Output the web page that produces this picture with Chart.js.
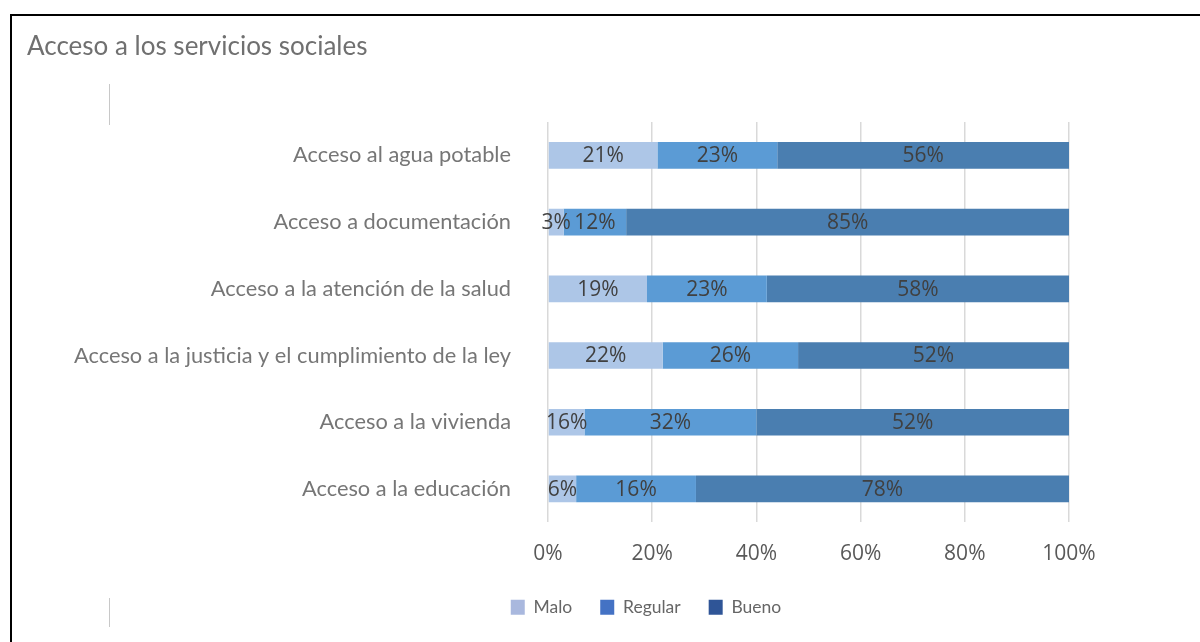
<!DOCTYPE html>
<html>
<head>
<meta charset="utf-8">
<script src="https://cdn.jsdelivr.net/npm/chart.js@4"></script>
<style>
  html, body { margin: 0; padding: 0; background: #ffffff; }
  #wrap { position: relative; width: 1200px; height: 642px; overflow: hidden; }
  canvas { position: absolute; left: 0; top: 0; }
  .frame { position: absolute; left: 10px; top: 14px; width: 1300px; height: 700px;
           border-left: 2px solid #000; border-top: 2px solid #000; pointer-events: none; }
  .vline { position: absolute; left: 109px; width: 1px; background: #c8c8c8; pointer-events: none; }
</style>
</head>
<body>
<div id="wrap">
  <canvas id="c" width="1200" height="642"></canvas>
  <div class="frame"></div>
  <div class="vline" style="top:84px;height:41px;"></div>
  <div class="vline" style="top:598px;height:29px;"></div>
</div>
<script>
// ---- data ----
const categories = [
  'Acceso al agua potable',
  'Acceso a documentación',
  'Acceso a la atención de la salud',
  'Acceso a la justicia y el cumplimiento de la ley',
  'Acceso a la vivienda',
  'Acceso a la educación'
];
const seriesNames = ['Malo', 'Regular', 'Bueno'];
// bar lengths as drawn (percent)
const maloValues    = [21, 3, 19, 22, 7, 5.4];
const regularValues = [23, 12, 23, 26, 33, 23];
const buenoValues   = [56, 85, 58, 52, 60, 71.6];
// data label texts as printed
const maloLabels    = ['21%', '3%', '19%', '22%', '16%', '6%'];
const regularLabels = ['23%', '12%', '23%', '26%', '32%', '16%'];
const buenoLabels   = ['56%', '85%', '58%', '52%', '52%', '78%'];
const xTicks = [0, 20, 40, 60, 80, 100];

const barColors = ['#adc6e7', '#5b9bd5', '#4a7eb0'];
const legendColors = ['#a9b8de', '#4472c4', '#2f5597'];
const labelSets = [maloLabels, regularLabels, buenoLabels];

const segmentLabels = {
  id: 'segmentLabels',
  afterDatasetsDraw(chart) {
    const ctx = chart.ctx;
    ctx.save();
    ctx.font = '21px "Open Sans"';
    ctx.fillStyle = '#404040';
    ctx.textAlign = 'center';
    ctx.textBaseline = 'middle';
    chart.data.datasets.forEach((ds, di) => {
      const meta = chart.getDatasetMeta(di);
      meta.data.forEach((el, i) => {
        const p = el.getProps(['x', 'y', 'base'], true);
        ctx.fillText(labelSets[di][i], (p.x + p.base) / 2, p.y + 1);
      });
    });
    ctx.restore();
  }
};

const legendShift = {
  id: 'legendShift',
  afterLayout(chart) {
    const lg = chart.legend;
    if (!lg) return;
    const dx = 98, dy = -15;
    lg.left += dx; lg.right += dx; lg.top += dy; lg.bottom += dy;
  }
};

new Chart(document.getElementById('c'), {
  type: 'bar',
  data: {
    labels: categories,
    datasets: [
      { label: seriesNames[0], data: maloValues, backgroundColor: barColors[0] },
      { label: seriesNames[1], data: regularValues, backgroundColor: barColors[1] },
      { label: seriesNames[2], data: buenoValues, backgroundColor: barColors[2] }
    ]
  },
  plugins: [segmentLabels, legendShift],
  options: {
    responsive: false,
    animation: false,
    indexAxis: 'y',
    datasets: { bar: { categoryPercentage: 1, barPercentage: 0.4, borderWidth: 0 } },
    layout: { padding: { left: 27, right: 131, top: 0, bottom: 1 } },
    scales: {
      x: {
        stacked: true,
        min: 0, max: 100,
        afterBuildTicks(scale) { scale.ticks = xTicks.map(v => ({ value: v })); },
        grid: { color: '#d9d9d9', lineWidth: 1.5, drawTicks: false },
        border: { display: false },
        ticks: {
          padding: 19,
          color: '#595959',
          font: { family: 'Open Sans', size: 21 },
          callback: v => v + '%'
        }
      },
      y: {
        stacked: true,
        grid: { display: false, drawTicks: false },
        border: { display: false },
        afterFit(scale) { scale.width = 521; },
        ticks: {
          padding: 37,
          color: '#767676',
          font: { family: 'Lato', size: 21.8 }
        }
      }
    },
    plugins: {
      title: {
        display: true,
        text: 'Acceso a los servicios sociales',
        align: 'start',
        color: '#707070',
        font: { family: 'Lato', size: 26, weight: 'normal' },
        padding: { top: 31, bottom: 59.8 }
      },
      legend: {
        position: 'bottom',
        labels: {
          boxWidth: 14,
          boxHeight: 15,
          padding: 28,
          color: '#666666',
          font: { family: 'Lato', size: 17.5 },
          generateLabels(chart) {
            return chart.data.datasets.map((ds, i) => ({
              text: ds.label,
              fillStyle: legendColors[i],
              strokeStyle: legendColors[i],
              lineWidth: 0,
              hidden: false,
              datasetIndex: i,
              fontColor: '#666666'
            }));
          }
        }
      },
      tooltip: { enabled: false }
    }
  }
});
</script>
</body>
</html>
